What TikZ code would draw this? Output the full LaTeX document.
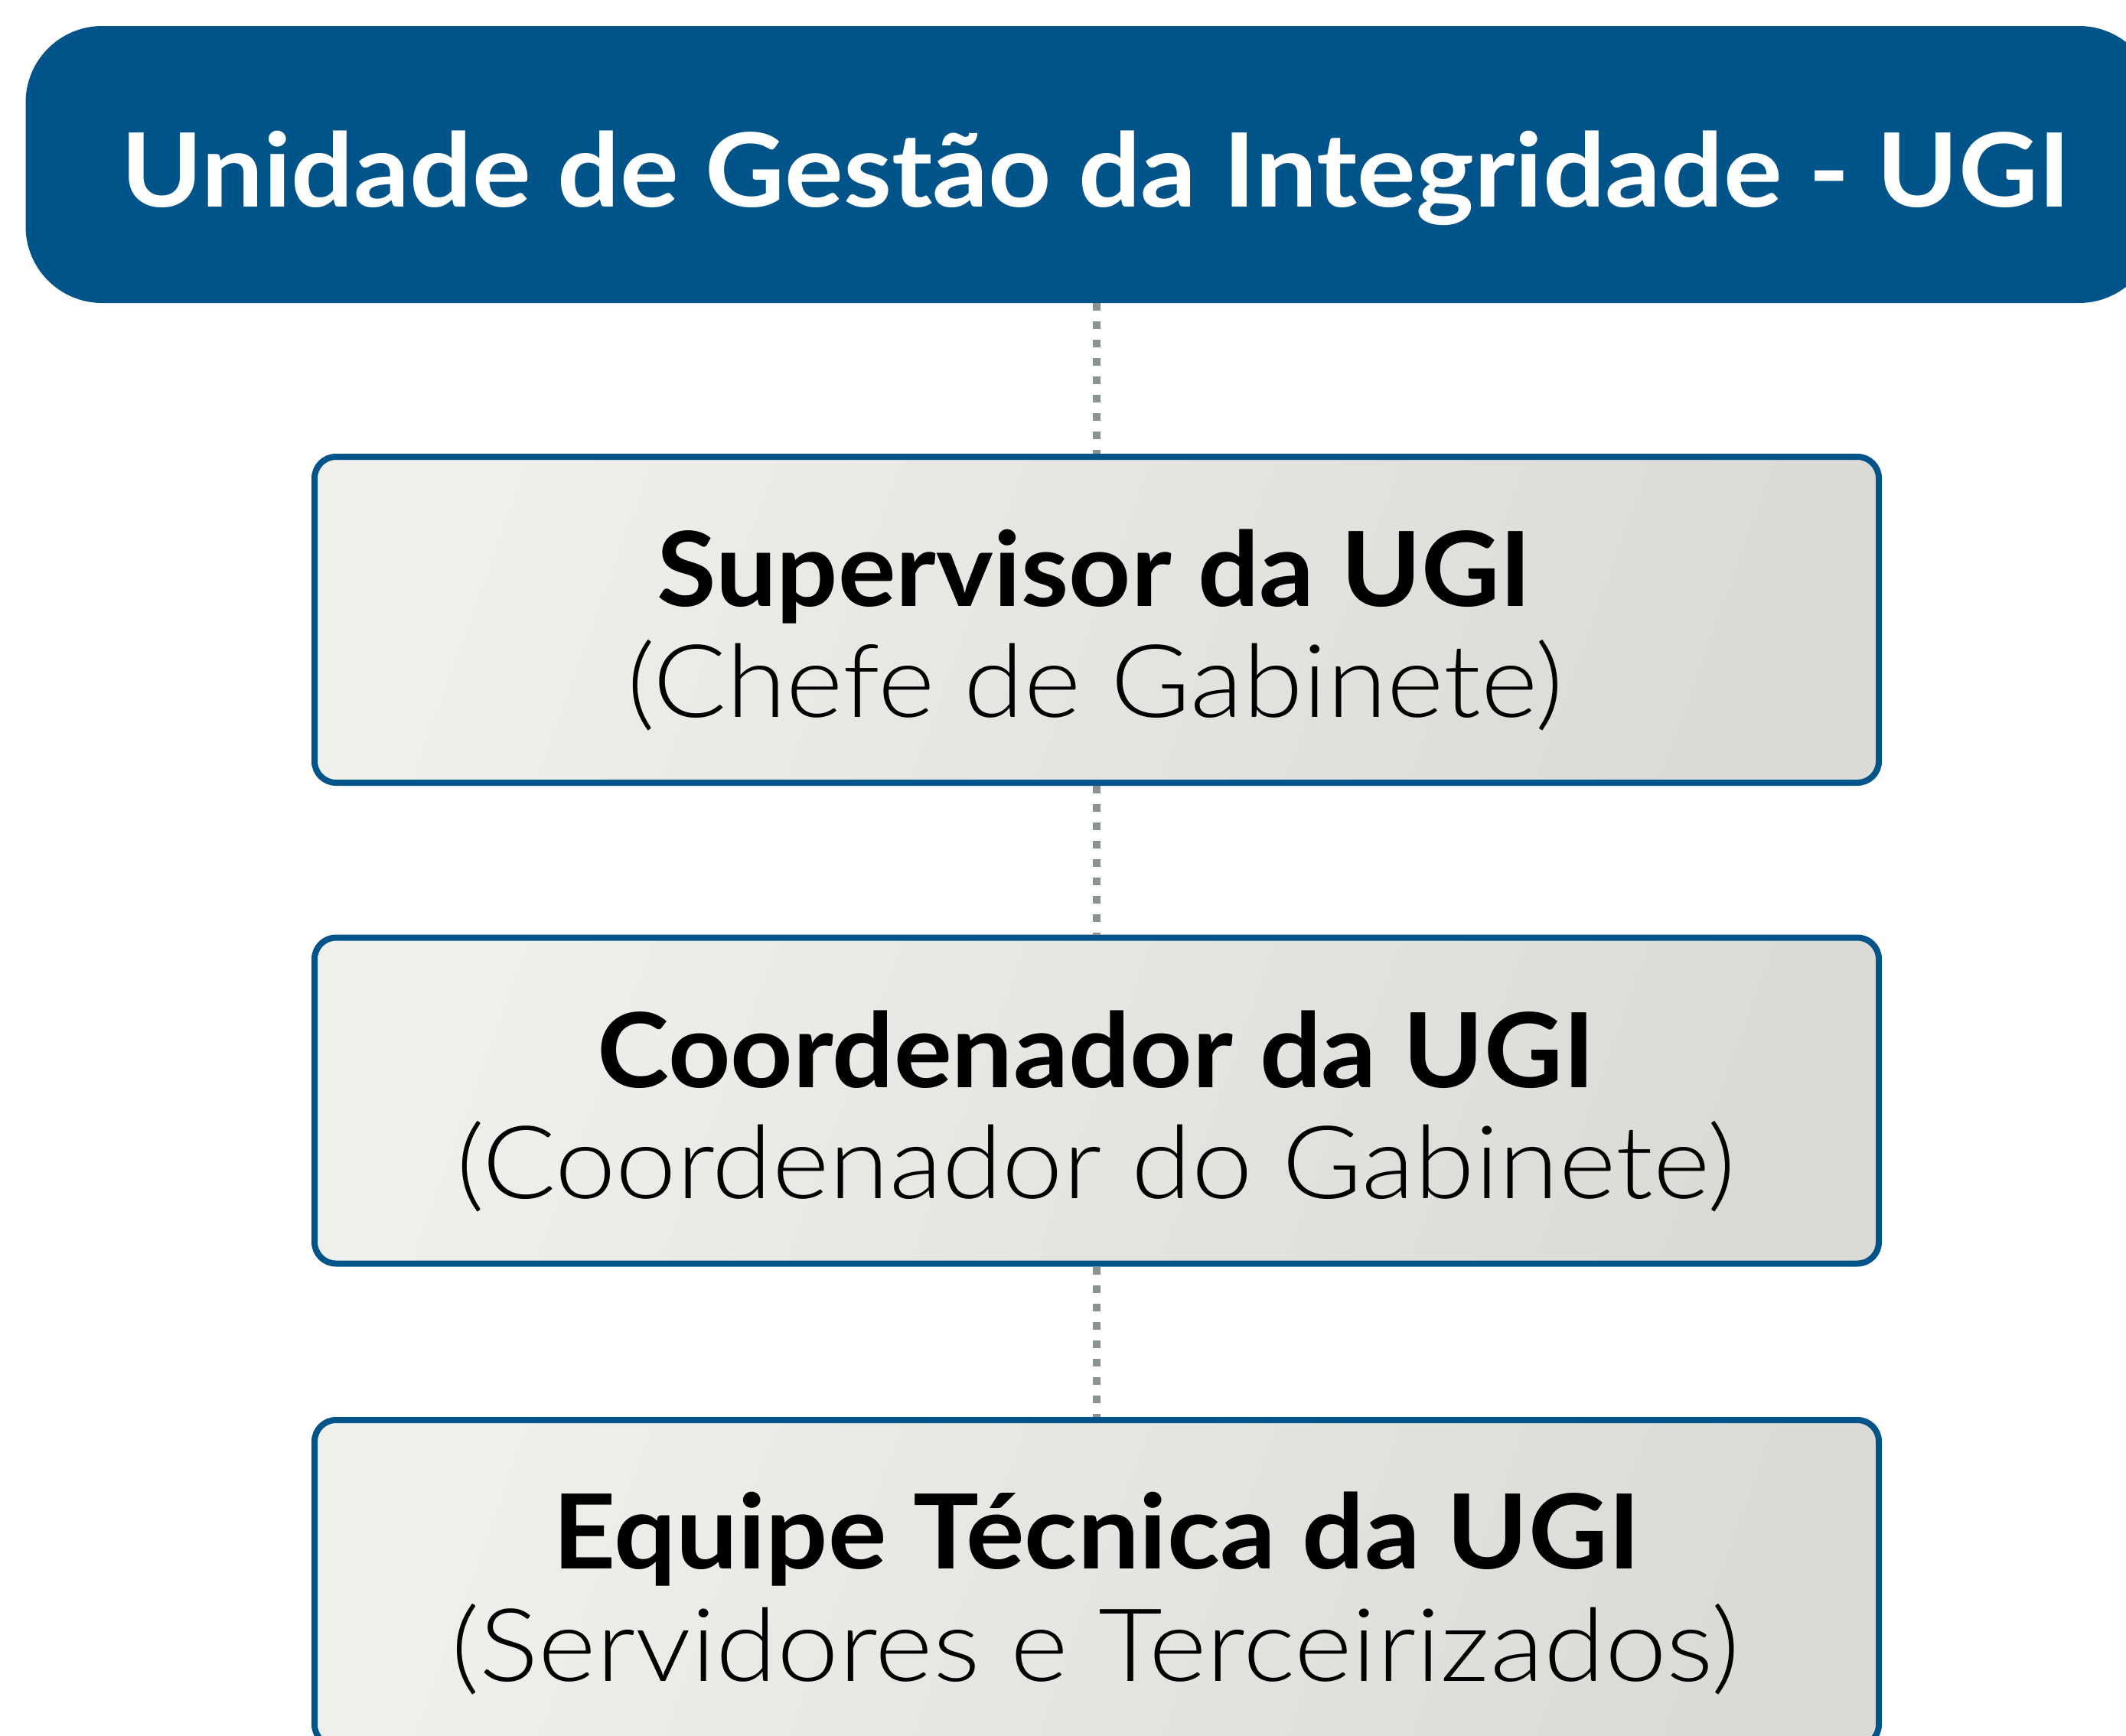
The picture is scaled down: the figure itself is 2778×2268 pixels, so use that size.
\documentclass[tikz,border=0pt]{standalone}
\usepackage{graphicx}
\usepackage{fontspec}
\setmainfont{Lato}
\newfontfamily\lightf{Lato Light}
\newcommand\fitline[3]{\resizebox{#1}{#2}{\vphantom{H}\smash{#3}}}
\definecolor{ugiblue}{RGB}{1,84,138}
\definecolor{boxA}{RGB}{239,239,236}
\definecolor{boxB}{RGB}{218,219,214}
\definecolor{dotgray}{RGB}{138,146,146}
\tikzset{
  banner/.style={fill=ugiblue, rounded corners=100pt, minimum width=2783pt, minimum height=362pt, inner sep=0pt},
  ubox/.style={draw=ugiblue, line width=8pt, rounded corners=28pt, left color=boxA, right color=boxB, shading angle=70, minimum width=2044pt, minimum height=426pt, inner sep=0pt},
  txt/.style={anchor=base, inner sep=0pt, outer sep=0pt, font=\fontsize{130}{150}\selectfont},
  dotline/.style={draw=dotgray, line width=10pt, dash pattern=on 10pt off 14pt},
}
\begin{document}
\begin{tikzpicture}[x=1pt,y=-1pt]
\useasboundingbox (0,0) rectangle (2778,2268);
\clip (0,0) rectangle (2778,2268);
\fill[white] (0,0) rectangle (2778,2268);
% banner
\node[banner] (ugi) at (1425,215) {};
\node[txt, text=white] (ugit) at (1432,270) {\fitline{2546pt}{96pt}{\bfseries Unidade de Gestão da Integridade - UGI}};
% boxes
\node[ubox] (sup) at (1433,810) {};
\node[ubox] (coo) at (1433,1438.5) {};
\node[ubox] (equ) at (1433,2069) {};
% connectors
\draw[dotline] (ugi.south -| sup.north) -- (sup.north);
\draw[dotline] (sup.south) -- (coo.north);
\draw[dotline] (coo.south) -- (equ.north);
% texts
\node[txt] (supa) at (1430,792) {\fitline{1143pt}{97pt}{\bfseries Supervisor da UGI}};
\node[txt] (supb) at (1431,937) {\fitline{1223pt}{95pt}{\lightf (Chefe de Gabinete)}};
\node[txt] (cooa) at (1432,1421) {\fitline{1303pt}{97pt}{\bfseries Coordenador da UGI}};
\node[txt] (coob) at (1432,1566) {\fitline{1671pt}{95pt}{\lightf (Coordenador do Gabinete)}};
\node[txt] (equa) at (1433,2050) {\fitline{1421pt}{97pt}{\bfseries Equipe Técnica da UGI}};
\node[txt] (equb) at (1431,2197) {\fitline{1683pt}{95pt}{\lightf (Servidores e Terceirizados)}};
\end{tikzpicture}
\end{document}
